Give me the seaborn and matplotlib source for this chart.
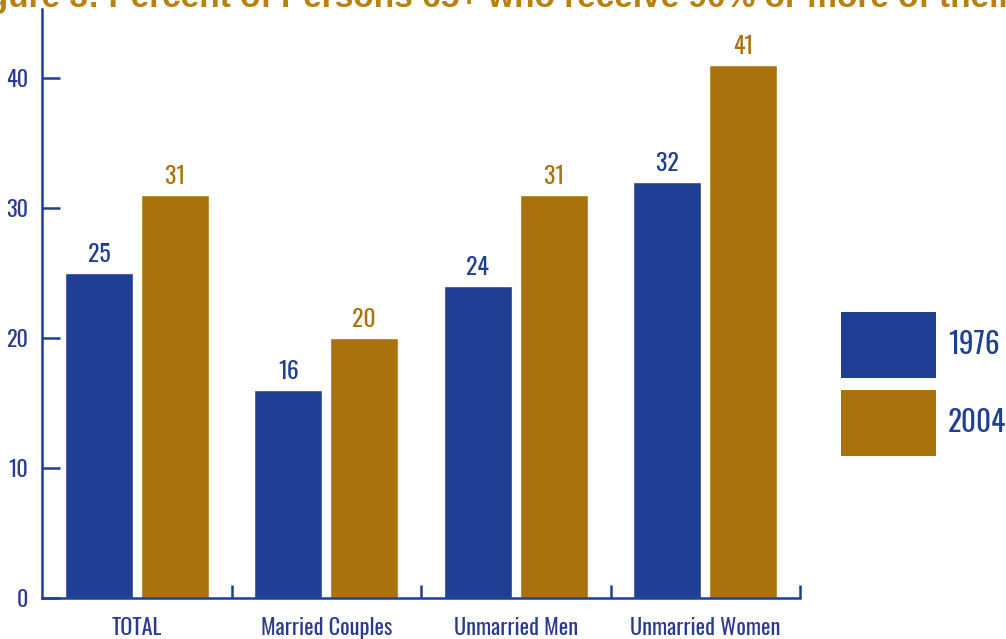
import matplotlib
matplotlib.use("Agg")
import matplotlib.pyplot as plt
import seaborn as sns
import pandas as pd
from matplotlib.patches import Patch

categories = ["TOTAL", "Married Couples", "Unmarried Men", "Unmarried Women"]
years = ["1976", "2004"]
values_1976 = [25, 16, 24, 32]
values_2004 = [31, 20, 31, 41]
y_ticks = [0, 10, 20, 30, 40]
title = "Figure 3: Percent of Persons 65+ who receive 90% or more of their"

BLUE = "#1E3F94"
GOLD = "#AA720C"
TEXT_BLUE = "#2B3990"
TITLE_GOLD = "#B7800F"

df = pd.DataFrame({
    "category": categories * 2,
    "year": [years[0]] * 4 + [years[1]] * 4,
    "value": values_1976 + values_2004,
})

sns.set_style("white")
FONT = ["Oswald", "DejaVu Sans"]
plt.rcParams["font.family"] = FONT

fig = plt.figure(figsize=(10.06, 6.39), dpi=100)
ax = fig.add_axes([42 / 1006, 1 - 598 / 639, (800 - 42) / 1006, (598 - 9) / 639])

sns.barplot(data=df, x="category", y="value", hue="year", order=categories,
            hue_order=years, palette=[BLUE, GOLD], width=0.8, gap=0.1,
            saturation=1, ax=ax, legend=False, errorbar=None)

for cont, col in zip(ax.containers, [BLUE, GOLD]):
    ax.bar_label(cont, padding=5, color=col, fontsize=17, family=FONT)

ax.set_xlim(-0.5, 3.5)
ax.set_ylim(0, 45.3)
ax.set_xlabel("")
ax.set_ylabel("")

ax.set_yticks(y_ticks)
ax.set_yticklabels([str(t) for t in y_ticks], color=TEXT_BLUE, fontsize=16)
ax.tick_params(axis="y", direction="in", length=13, width=1.8, color=BLUE, pad=10, left=True)
ax.set_xticks(range(len(categories)))
ax.set_xticklabels(categories, color=TEXT_BLUE, fontsize=16)
ax.tick_params(axis="x", which="major", length=0, pad=14)
ax.set_xticks([0.5, 1.5, 2.5, 3.5], minor=True)
ax.tick_params(axis="x", which="minor", direction="in", length=9.5, width=1.8, color=BLUE, bottom=True)

for s in ["top", "right"]:
    ax.spines[s].set_visible(False)
for s in ["left", "bottom"]:
    ax.spines[s].set_color(BLUE)
    ax.spines[s].set_linewidth(1.8)

handles = [Patch(facecolor=BLUE, edgecolor="none"), Patch(facecolor=GOLD, edgecolor="none")]
fs = 21
px = fs * 100 / 72
leg = fig.legend(handles, years, loc="upper left", bbox_to_anchor=(841 / 1006, 1 - 312 / 639),
                 frameon=False, borderpad=0, borderaxespad=0,
                 handlelength=95 / px, handleheight=2.73 * 33.33 / px, labelspacing=0.4,
                 handletextpad=12 / px, prop={"family": FONT, "size": fs}, labelcolor=BLUE)

fig.text(1012 / 1006, 1 - 7.5 / 639, title, ha="right", va="baseline", fontsize=24,
         fontweight="bold", color=TITLE_GOLD, family=["Liberation Sans", "DejaVu Sans"])

fig.savefig("out.png", dpi=100)
